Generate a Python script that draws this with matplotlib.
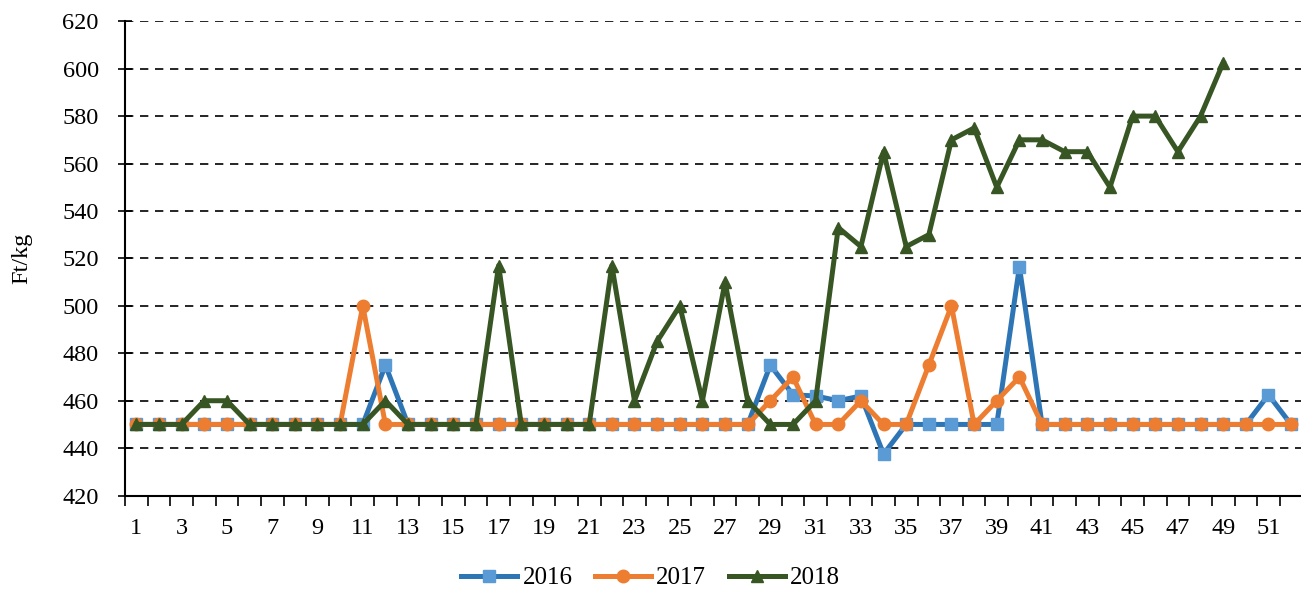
import matplotlib
matplotlib.use("Agg")
import matplotlib.pyplot as plt
from matplotlib.ticker import MultipleLocator

plt.rcParams["font.family"] = ["Liberation Serif", "DejaVu Serif"]

weeks = list(range(1, 53))

price_2016 = [450] * 11 + [475] + [450] * 16 + [475, 462.5, 462, 460, 462, 437.5] \
    + [450] * 5 + [516.5] + [450] * 10 + [462.5, 450]
price_2017 = [450] * 10 + [500] + [450] * 17 + [460, 470, 450, 450, 460, 450, 450,
                                              475, 500, 450, 460, 470] + [450] * 12
price_2018 = [450, 450, 450, 460, 460, 450, 450, 450, 450, 450, 450, 460,
              450, 450, 450, 450, 517, 450, 450, 450, 450, 517, 460, 485,
              500, 460, 510, 460, 450, 450, 460, 533, 525, 565, 525, 530,
              570, 575, 550, 570, 570, 565, 565, 550, 580, 580, 565, 580, 602.5]

series = [
    ("2016", price_2016, "#2E75B6", "#5B9BD5", "s"),
    ("2017", price_2017, "#ED7D31", "#ED7D31", "o"),
    ("2018", price_2018, "#375623", "#375623", "^"),
]

fig = plt.figure(figsize=(13.01, 5.9), dpi=100)
ax = fig.add_axes([0.0961, 0.160, 0.905, 0.804])

for label, values, line_col, mark_col, marker in series:
    ax.plot(weeks[:len(values)], values, color=line_col, lw=3.6, marker=marker,
            ms=9, mfc=mark_col, mec=mark_col, label=label, zorder=3)

ax.set_xlim(0.5, 52.5)
ax.set_ylim(420, 620)
ax.yaxis.set_major_locator(MultipleLocator(20))
ax.grid(axis="y", color="black", ls=(0, (5, 4)), lw=1.2)
ax.set_axisbelow(True)

ax.set_xticks(range(1, 52, 2))
ax.set_xticks([w + 0.5 for w in range(0, 53)], minor=True)
ax.tick_params(axis="x", which="major", length=0, labelsize=17.5, pad=16)
ax.tick_params(axis="x", which="minor", length=7, width=1.2, direction="out")
ax.tick_params(axis="y", length=10, width=1.2, direction="inout", labelsize=17.5, pad=14)

for side in ("top", "right"):
    ax.spines[side].set_visible(False)
ax.spines["left"].set_linewidth(1.5)
ax.spines["bottom"].set_linewidth(1.5)

ax.set_ylabel("Ft/kg", fontsize=17.5)
ax.yaxis.set_label_coords(-0.0785, 0.5)

fig.legend(loc="center", bbox_to_anchor=(0.5, 1 - 578 / 590), ncol=3, frameon=False,
           fontsize=18, handlelength=2.25, columnspacing=0.9, handletextpad=0.2)

fig.savefig("out.png", dpi=100)
